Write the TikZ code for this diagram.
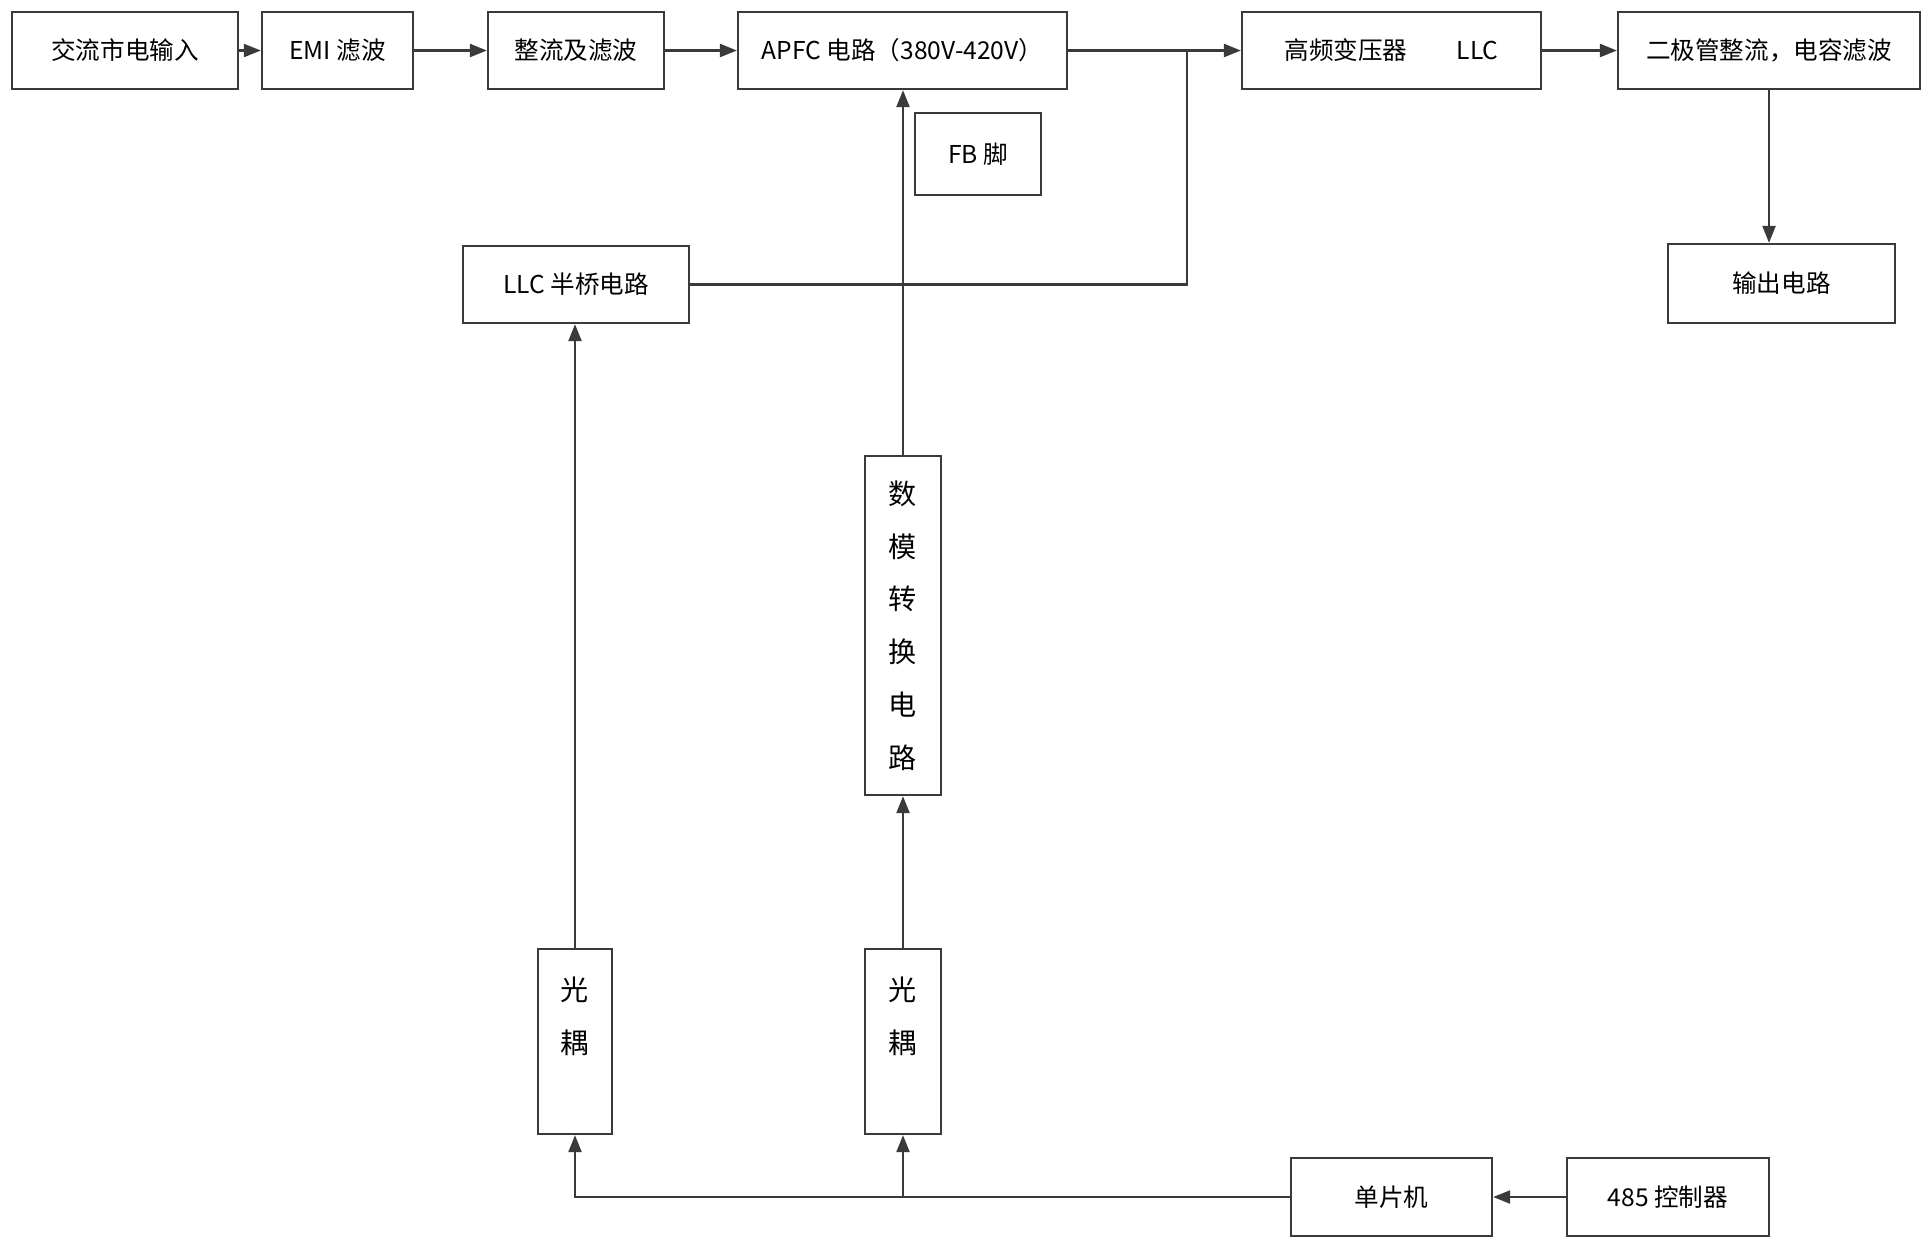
\documentclass[tikz,border=0pt]{standalone}
\usepackage{fontspec}
\setmainfont{Noto Sans CJK SC}
\usetikzlibrary{arrows.meta}
\definecolor{ln}{HTML}{3A3A3A}
\tikzset{
  box/.style n args={4}{draw=ln, line width=1.3pt, inner sep=0pt,
    minimum width={(#3-#1)*0.02cm}, minimum height={(#4-#2)*0.02cm},
    at={({(#1+#3)/2},{(#2+#4)/2})}, font=\fontsize{14}{17}\selectfont},
  vtext/.style={align=center, font=\fontsize{16}{30}\selectfont},
  arr/.style={draw=ln, line width=1.3pt, -{Triangle[length=0.34cm,width=0.26cm]}},
  wire/.style={draw=ln, line width=1.3pt}
}
\begin{document}
\begin{tikzpicture}[x=0.02cm,y=-0.02cm]
\useasboundingbox (0,0) rectangle (1932,1249);
% top row
\node[box={12}{12}{238}{89}] (in) {交流市电输入};
\node[box={262}{12}{413}{89}] (emi) {EMI 滤波};
\node[box={488}{12}{664}{89}] (rect) {整流及滤波};
\node[box={738}{12}{1067}{89}] (apfc) {APFC 电路（380V-420V）};
\node[box={1242}{12}{1541}{89}] (hf) {高频变压器\quad\quad LLC};
\node[box={1618}{12}{1920}{89}] (diode) {二极管整流，电容滤波};
% second row
\node[box={915}{113}{1041}{195}] (fb) {FB 脚};
\node[box={463}{246}{689}{323}] (llc) {LLC 半桥电路};
\node[box={1668}{244}{1895}{323}] (out) {输出电路};
% vertical boxes
\node[box={865}{456}{941}{795}, vtext] (dac) {数\\模\\转\\换\\电\\路};
\node[box={538}{949}{612}{1134}, vtext] (oc1) {光\\耦\\~};
\node[box={865}{949}{941}{1134}, vtext] (oc2) {光\\耦\\~};
% bottom row
\node[box={1291}{1158}{1492}{1236}] (mcu) {单片机};
\node[box={1567}{1158}{1769}{1236}] (ctrl) {485 控制器};
% connectors
\draw[arr] (in) -- (emi);
\draw[arr] (emi) -- (rect);
\draw[arr] (rect) -- (apfc);
\draw[arr] (apfc) -- (hf);
\draw[arr] (hf) -- (diode);
\coordinate (j) at (1187,50.5);
\draw[wire] (llc.east) -| (j);
\draw[arr] (diode.south) -- (diode.south |- out.north);
\draw[arr] (dac.north) -- (dac.north |- apfc.south);
\draw[arr] (oc2.north) -- (dac.south);
\draw[arr] (oc1.north) -- (oc1.north |- llc.south);
\draw[arr] (mcu.west) -| (oc1.south);
\draw[arr] (oc2.south |- mcu.west) -- (oc2.south);
\draw[arr] (ctrl) -- (mcu);
\end{tikzpicture}
\end{document}
